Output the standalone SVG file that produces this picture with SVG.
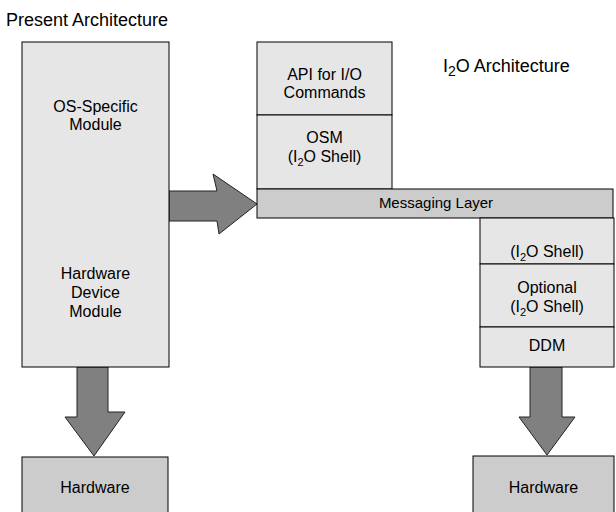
<svg xmlns="http://www.w3.org/2000/svg" width="616" height="512" viewBox="0 0 616 512">
<style>
.lt{fill:#e6e6e6;stroke:#000;stroke-width:1}
.dk{fill:#cccccc;stroke:#000;stroke-width:1}
.ar{fill:#808080;stroke:#222;stroke-width:1;stroke-linejoin:miter}
text{font-family:"Liberation Sans",Arial,sans-serif;font-size:16px;fill:#000}
.c{text-anchor:middle}
.t{font-size:18px}
.s{font-size:11px}
</style>
<rect width="616" height="512" fill="#fff"/>
<text class="t" x="6" y="26">Present Architecture</text>
<text class="t" x="443" y="72">I<tspan class="s" dy="4" style="font-size:14px">2</tspan><tspan dy="-4">O Architecture</tspan></text>

<g id="connectors">
<path class="ar" d="M169,191 L217,191 L213,174 L257,204 L219,234 L217,221 L169,221 Z"/>
<path class="ar" d="M77,367 L108,367 L108,412 L125,412 L94,456 L65,417 L77,417 Z"/>
<path class="ar" d="M530,367 L562,367 L562,417 L575,417 L547,455 L519,417 L530,417 Z"/>
</g>

<g id="os-hardware-module">
<rect class="lt" x="22" y="42" width="147" height="325"/>
<text class="c" x="95.5" y="112">OS-Specific</text>
<text class="c" x="95.5" y="130">Module</text>
<text class="c" x="95.5" y="279">Hardware</text>
<text class="c" x="95.5" y="298">Device</text>
<text class="c" x="95.5" y="317">Module</text>
</g>

<g id="hardware-left">
<rect class="dk" x="22" y="457" width="146" height="60"/>
<text class="c" x="95" y="493">Hardware</text>
</g>

<g id="api">
<rect class="lt" x="257" y="42" width="135" height="73"/>
<text class="c" x="324.5" y="80">API for I/O</text>
<text class="c" x="324.5" y="98">Commands</text>
</g>

<g id="osm">
<rect class="lt" x="257" y="115" width="135" height="74"/>
<text class="c" x="324.5" y="143">OSM</text>
<text class="c" x="324.5" y="162">(I<tspan class="s" dy="4">2</tspan><tspan dy="-4">O Shell)</tspan></text>
</g>

<g id="messaging-layer">
<rect class="dk" x="257" y="189" width="356" height="29"/>
<text class="c" x="436" y="208" style="font-size:15px">Messaging Layer</text>
</g>

<g id="shell">
<rect class="lt" x="480" y="218" width="134" height="46"/>
<text class="c" x="547" y="257">(I<tspan class="s" dy="4">2</tspan><tspan dy="-4">O Shell)</tspan></text>
</g>

<g id="optional-shell">
<rect class="lt" x="480" y="264" width="134" height="63"/>
<text class="c" x="547" y="293">Optional</text>
<text class="c" x="547" y="312">(I<tspan class="s" dy="4">2</tspan><tspan dy="-4">O Shell)</tspan></text>
</g>

<g id="ddm">
<rect class="lt" x="480" y="327" width="134" height="40"/>
<text class="c" x="547" y="351">DDM</text>
</g>

<g id="hardware-right">
<rect class="dk" x="473" y="456" width="141" height="61"/>
<text class="c" x="543.5" y="493">Hardware</text>
</g>
</svg>
